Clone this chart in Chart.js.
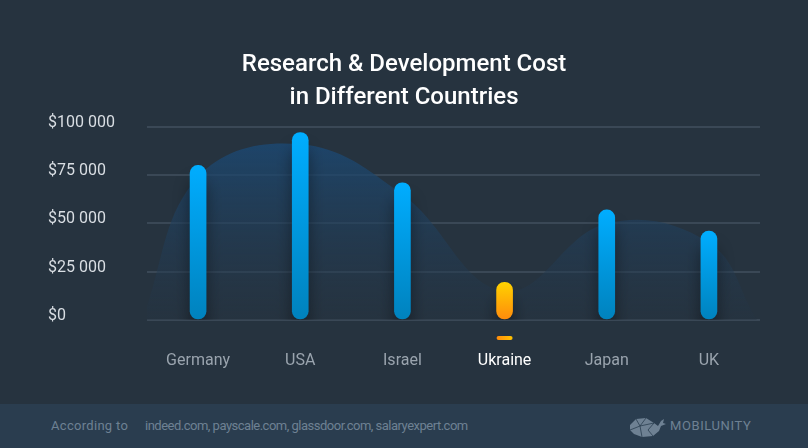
<!DOCTYPE html>
<html>
<head>
<meta charset="utf-8">
<script src="https://cdn.jsdelivr.net/npm/chart.js@4"></script>
<style>
  html, body { margin: 0; padding: 0; background: #26333f; }
  #wrap { position: relative; width: 808px; height: 448px; overflow: hidden; font-family: Roboto, sans-serif; }
  #scoreChart { position: absolute; left: 0; top: 0; }
  #footer { position: absolute; left: 0; top: 404px; width: 808px; height: 44px; background: #2a3d4f; color: #6e8193; font-size: 13px; }
  #footer span { position: absolute; top: 14px; white-space: nowrap; }
  #logo { position: absolute; left: 628px; top: 12px; }
</style>
</head>
<body>
<div id="wrap">
  <canvas id="scoreChart" width="808" height="404"></canvas>
  <div id="footer">
    <span style="left:51px; letter-spacing:0.3px">According to</span>
    <span style="left:145px; letter-spacing:-0.5px">indeed.com, payscale.com, glassdoor.com, salaryexpert.com</span>
    <svg id="logo" width="40" height="22" viewBox="0 0 40 22">
      <path d="M2 9 L8 3 L18 2 L26 7 L30 10 L33 5 L36 3 L35 7 L38 8 L33 10 L31 15 L25 20 L14 21 L6 18 L2 14 Z" fill="#6e8193"/>
      <path d="M8 3 L12 10 L18 2 M12 10 L26 7 M12 10 L14 21 M12 10 L2 14 M20 14 L25 20 M20 14 L26 7" stroke="#2a3d4f" stroke-width="0.8" fill="none"/>
    </svg>
    <span style="left:670px; letter-spacing:0.6px; font-size:13px; top:14px">MOBILUNITY</span>
  </div>
</div>
<script>
const categories = ["Germany", "USA", "Israel", "Ukraine", "Japan", "UK"];
const costValues = [80000, 97000, 71000, 19500, 57000, 46000];
const yTicks = [0, 25000, 50000, 75000, 100000];
// background wave, x in category units
const waveX = [-0.55, 0, 1, 2, 3, 4, 5, 5.47];
const waveY = [0, 74000, 91000, 65000, 15000, 50000, 40000, 0];
const highlightIndex = 3;

function barGradient(context) {
  const chart = context.chart;
  const y = chart.scales.y;
  if (!chart.chartArea || !y || context.type !== "data") return "#0096dd";
  const top = y.getPixelForValue(context.raw);
  const bottom = y.getPixelForValue(0);
  const g = chart.ctx.createLinearGradient(0, top, 0, bottom);
  if (context.dataIndex === highlightIndex) {
    g.addColorStop(0, "#ffd200");
    g.addColorStop(1, "#ff8a0c");
  } else {
    g.addColorStop(0, "#00adff");
    g.addColorStop(1, "#0082bd");
  }
  return g;
}

function waveGradient(context) {
  const chart = context.chart;
  if (!chart.chartArea) return "rgba(30,70,110,0.5)";
  const g = chart.ctx.createLinearGradient(0, chart.chartArea.top, 0, chart.chartArea.bottom);
  g.addColorStop(0, "rgba(27,75,120,0.85)");
  g.addColorStop(1, "rgba(38,52,66,0.4)");
  return g;
}

const barShadow = {
  id: "barShadow",
  beforeDatasetDraw(chart, args) {
    if (args.meta.type !== "bar") return;
    const ctx = chart.ctx;
    ctx.save();
    ctx.shadowColor = "rgba(0,0,0,0.4)";
    ctx.shadowBlur = 16;
    ctx.shadowOffsetY = 16;
  },
  afterDatasetDraw(chart, args) {
    if (args.meta.type !== "bar") return;
    chart.ctx.restore();
  },
  afterDatasetsDraw(chart) {
    // small marker under the highlighted country
    const ctx = chart.ctx;
    const x = chart.scales.x.getPixelForValue(highlightIndex);
    const g = ctx.createLinearGradient(x - 8, 0, x + 8, 0);
    g.addColorStop(0, "#ff8a0c");
    g.addColorStop(1, "#ffc400");
    ctx.save();
    ctx.fillStyle = g;
    ctx.beginPath();
    ctx.roundRect(x - 8, chart.chartArea.bottom + 16, 16, 4, 2);
    ctx.fill();
    ctx.restore();
  }
};

const ctx = document.getElementById("scoreChart").getContext("2d");

new Chart(ctx, {
  data: {
    labels: categories,
    datasets: [
      {
        type: "bar",
        xAxisID: "x",
        data: costValues,
        backgroundColor: barGradient,
        borderRadius: 8,
        borderSkipped: false,
        barThickness: 16,
        grouped: false,
        order: 1,
      },
      {
        type: "line",
        xAxisID: "x2",
        data: waveX.map((x, i) => ({ x: x, y: waveY[i] })),
        fill: "origin",
        backgroundColor: waveGradient,
        borderWidth: 0,
        pointRadius: 0,
        tension: 0.4,
        order: 2,
      },
    ],
  },
  options: {
    responsive: false,
    animation: false,
    layout: { padding: { left: 48, right: 48, top: 0, bottom: 29 } },
    plugins: {
      legend: { display: false },
      tooltip: { enabled: false },
      title: {
        display: true,
        text: ["Research & Development Cost", "in Different Countries"],
        color: "#ffffff",
        font: { family: "Roboto", size: 24, weight: "500", lineHeight: 1.35 },
        padding: { top: 49, bottom: 13 },
      },
    },
    scales: {
      x: {
        grid: { display: false, drawTicks: false },
        border: { display: false },
        afterFit: (scale) => {
          scale.height = 55;
        },
        ticks: {
          padding: 31,
          maxRotation: 0,
          font: { family: "Roboto", size: 16 },
          color: (c) => (c.index === highlightIndex ? "#ffffff" : "#9aa4ae"),
        },
      },
      x2: {
        type: "linear",
        display: false,
        min: -0.5,
        max: 5.5,
      },
      y: {
        min: 0,
        max: 100000,
        afterBuildTicks: (scale) => {
          scale.ticks = yTicks.map((v) => ({ value: v }));
        },
        afterFit: (scale) => {
          scale.width = 99;
        },
        border: { display: false },
        grid: { color: "#3a4856", lineWidth: 2, drawTicks: false },
        ticks: {
          crossAlign: "far",
          padding: 0,
          labelOffset: -4,
          font: { family: "Roboto", size: 16 },
          color: "#d9dee3",
          callback: (v) => (v === 0 ? "$0" : "$" + v / 1000 + " 000"),
        },
      },
    },
  },
  plugins: [barShadow],
});
</script>
</body>
</html>
